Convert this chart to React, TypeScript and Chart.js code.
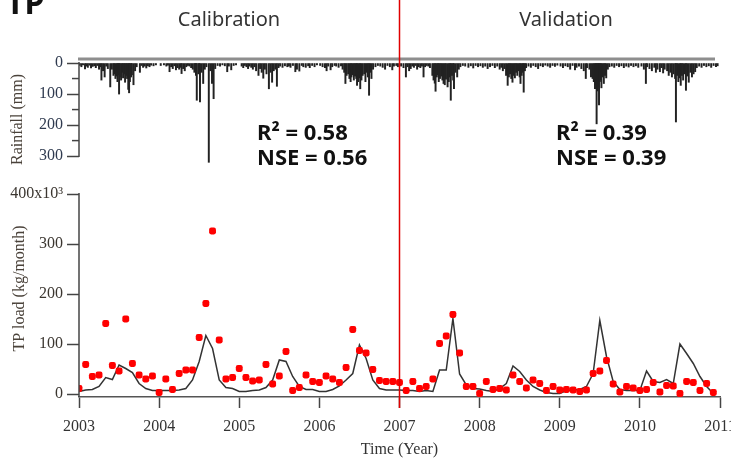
import React, { useEffect, useRef } from 'react';
import { Chart, registerables } from 'chart.js';

Chart.register(...registerables);

// ---------- data ----------
const yearTicks = [2003, 2004, 2005, 2006, 2007, 2008, 2009, 2010, 2011];
const startYear = 2003;
const splitYear = 2007;

// monthly TP load (x10^3 kg/month), Jan 2003 .. Dec 2010
const observedTP = [
  11, 59, 35, 38, 141, 57, 46, 150, 61, 38, 30, 36,
  3, 30, 9, 41, 48, 48, 113, 181, 326, 108, 30, 33,
  51, 33, 26, 28, 59, 20, 36, 85, 7, 13, 38, 25,
  23, 36, 30, 23, 53, 129, 87, 82, 49, 27, 25, 25,
  23, 7, 25, 11, 15, 30, 101, 116, 159, 82, 15, 15,
  1, 25, 9, 11, 8, 38, 25, 12, 28, 21, 7, 15,
  8, 9, 8, 5, 8, 41, 46, 67, 20, 4, 15, 12,
  7, 9, 23, 4, 17, 16, 1, 25, 23, 7, 21, 3,
];
const simulatedTP = [
  5, 8, 9, 15, 33, 29, 58, 51, 43, 21, 11, 7,
  7, 7, 7, 8, 11, 28, 65, 117, 91, 28, 13, 11,
  5, 5, 7, 8, 13, 28, 68, 65, 35, 15, 9, 9,
  5, 5, 9, 16, 28, 41, 98, 71, 28, 11, 8, 8,
  8, 7, 7, 5, 7, 5, 48, 48, 151, 40, 18, 11,
  10, 7, 5, 11, 21, 56, 45, 28, 15, 8, 3, 1,
  1, 7, 8, 9, 15, 41, 147, 75, 25, 9, 7, 7,
  7, 46, 25, 23, 29, 21, 100, 81, 61, 35, 15, 1,
];

// rainfall events: [decimal year, mm]
const rainfall: [number, number][] = [
  [2003.01, 8], [2003.03, 12], [2003.05, 6], [2003.075, 19], [2003.09, 10], [2003.11, 14], [2003.13, 7],
  [2003.15, 16], [2003.17, 11], [2003.19, 9], [2003.21, 15], [2003.23, 8], [2003.25, 20], [2003.27, 12],
  [2003.28, 55], [2003.30, 25], [2003.32, 45], [2003.34, 10], [2003.36, 18], [2003.39, 77], [2003.41, 20],
  [2003.43, 40], [2003.44, 35], [2003.455, 50], [2003.47, 42], [2003.48, 60], [2003.49, 38], [2003.50, 100],
  [2003.51, 45], [2003.525, 55], [2003.54, 30], [2003.55, 48], [2003.565, 35], [2003.575, 62], [2003.59, 40],
  [2003.60, 50], [2003.615, 85], [2003.625, 96], [2003.635, 60], [2003.65, 45], [2003.66, 38], [2003.68, 70],
  [2003.70, 25], [2003.72, 12], [2003.76, 30], [2003.78, 8], [2003.80, 14], [2003.82, 10], [2003.84, 16],
  [2003.86, 9], [2003.88, 12], [2003.90, 7], [2003.93, 9], [2003.96, 6],
  [2004.02, 8], [2004.06, 6], [2004.09, 10], [2004.11, 7], [2004.13, 28], [2004.15, 12], [2004.17, 18],
  [2004.19, 9], [2004.21, 22], [2004.23, 15], [2004.25, 20], [2004.27, 14], [2004.28, 34], [2004.30, 18],
  [2004.32, 25], [2004.34, 12], [2004.36, 8], [2004.38, 10], [2004.40, 15], [2004.42, 20], [2004.44, 30],
  [2004.45, 25], [2004.46, 40], [2004.47, 120], [2004.49, 35], [2004.50, 28], [2004.51, 125], [2004.53, 30],
  [2004.55, 66], [2004.57, 20], [2004.59, 12], [2004.62, 320], [2004.64, 25], [2004.66, 66], [2004.68, 115],
  [2004.70, 18], [2004.73, 8], [2004.76, 10], [2004.79, 6], [2004.82, 9], [2004.85, 28], [2004.87, 10],
  [2004.90, 22], [2004.93, 8], [2004.96, 6],
  [2005.03, 10], [2005.05, 15], [2005.07, 8], [2005.09, 12], [2005.11, 18], [2005.13, 10], [2005.15, 14],
  [2005.17, 20], [2005.19, 12], [2005.21, 25], [2005.24, 40], [2005.26, 18], [2005.28, 30], [2005.30, 49],
  [2005.32, 20], [2005.34, 35], [2005.37, 83], [2005.39, 30], [2005.41, 62], [2005.43, 25], [2005.45, 20],
  [2005.47, 75], [2005.49, 15], [2005.51, 10], [2005.54, 14], [2005.57, 9], [2005.60, 12], [2005.62, 10],
  [2005.64, 14], [2005.67, 8], [2005.70, 28], [2005.72, 20], [2005.75, 26], [2005.78, 8], [2005.80, 12],
  [2005.83, 14], [2005.86, 9], [2005.88, 15], [2005.91, 8], [2005.94, 12], [2005.97, 6],
  [2006.01, 8], [2006.04, 12], [2006.07, 15], [2006.09, 25], [2006.11, 10], [2006.14, 22], [2006.16, 12],
  [2006.19, 8], [2006.21, 10], [2006.24, 14], [2006.27, 9], [2006.29, 20], [2006.31, 30], [2006.325, 66],
  [2006.34, 40], [2006.36, 35], [2006.375, 50], [2006.39, 60], [2006.40, 45], [2006.415, 38], [2006.43, 55],
  [2006.445, 42], [2006.46, 50], [2006.47, 72], [2006.485, 60], [2006.50, 48], [2006.51, 83], [2006.525, 55],
  [2006.54, 40], [2006.56, 35], [2006.575, 60], [2006.59, 30], [2006.605, 45], [2006.62, 104], [2006.635, 30],
  [2006.65, 50], [2006.67, 20], [2006.70, 12], [2006.73, 8], [2006.76, 10], [2006.79, 14], [2006.82, 20],
  [2006.85, 8], [2006.88, 12], [2006.91, 22], [2006.93, 10], [2006.96, 8], [2006.98, 12],
  [2007.02, 10], [2007.05, 15], [2007.08, 45], [2007.10, 12], [2007.12, 25], [2007.14, 18], [2007.16, 10],
  [2007.18, 14], [2007.20, 8], [2007.22, 20], [2007.24, 12], [2007.26, 15], [2007.28, 10], [2007.30, 45],
  [2007.32, 12], [2007.34, 8], [2007.36, 10], [2007.38, 15], [2007.41, 40], [2007.425, 55], [2007.44, 65],
  [2007.45, 91], [2007.465, 45], [2007.48, 38], [2007.49, 60], [2007.505, 50], [2007.52, 42], [2007.535, 55],
  [2007.55, 66], [2007.565, 70], [2007.58, 52], [2007.60, 77], [2007.615, 60], [2007.63, 45], [2007.64, 120],
  [2007.655, 40], [2007.67, 55], [2007.68, 83], [2007.70, 30], [2007.72, 45], [2007.74, 20], [2007.76, 12],
  [2007.79, 8], [2007.82, 10], [2007.86, 14], [2007.89, 9], [2007.92, 16], [2007.95, 8], [2007.98, 12],
  [2008.01, 9], [2008.04, 14], [2008.07, 10], [2008.10, 18], [2008.13, 12], [2008.16, 8], [2008.19, 15],
  [2008.22, 10], [2008.25, 20], [2008.27, 14], [2008.29, 25], [2008.31, 18], [2008.33, 40], [2008.35, 72],
  [2008.365, 45], [2008.38, 35], [2008.395, 50], [2008.41, 62], [2008.425, 40], [2008.44, 48], [2008.455, 30],
  [2008.47, 40], [2008.485, 25], [2008.50, 45], [2008.51, 66], [2008.525, 40], [2008.54, 30], [2008.55, 94],
  [2008.565, 25], [2008.58, 15], [2008.61, 10], [2008.64, 14], [2008.67, 8], [2008.70, 12], [2008.73, 18],
  [2008.76, 9], [2008.79, 12], [2008.82, 7], [2008.85, 10], [2008.88, 14], [2008.91, 8], [2008.94, 11], [2008.97, 7],
  [2009.01, 10], [2009.04, 15], [2009.07, 9], [2009.10, 12], [2009.13, 20], [2009.16, 8], [2009.19, 22],
  [2009.21, 14], [2009.24, 10], [2009.27, 18], [2009.30, 25], [2009.325, 50], [2009.34, 15], [2009.37, 20],
  [2009.39, 45], [2009.41, 50], [2009.425, 60], [2009.44, 83], [2009.45, 70], [2009.46, 196], [2009.47, 90],
  [2009.48, 75], [2009.49, 135], [2009.50, 60], [2009.51, 55], [2009.52, 80], [2009.535, 45], [2009.55, 66],
  [2009.565, 40], [2009.58, 48], [2009.60, 20], [2009.62, 12], [2009.65, 10], [2009.68, 14], [2009.71, 8],
  [2009.74, 12], [2009.77, 9], [2009.80, 15], [2009.83, 10], [2009.86, 13], [2009.89, 8], [2009.92, 12],
  [2009.95, 9], [2009.98, 14],
  [2010.02, 10], [2010.05, 20], [2010.075, 66], [2010.09, 12], [2010.12, 18], [2010.15, 25], [2010.18, 14],
  [2010.20, 30], [2010.22, 20], [2010.25, 28], [2010.27, 15], [2010.29, 32], [2010.31, 20], [2010.34, 25],
  [2010.36, 40], [2010.38, 30], [2010.40, 45], [2010.42, 35], [2010.44, 50], [2010.45, 190], [2010.465, 40],
  [2010.48, 60], [2010.50, 48], [2010.51, 72], [2010.525, 40], [2010.54, 55], [2010.56, 35], [2010.575, 88],
  [2010.59, 42], [2010.61, 62], [2010.63, 30], [2010.65, 45], [2010.67, 35], [2010.69, 28], [2010.71, 15],
  [2010.74, 10], [2010.77, 14], [2010.80, 8], [2010.83, 12], [2010.86, 9], [2010.89, 14], [2010.92, 8],
  [2010.95, 12], [2010.97, 9],
];

const rainMajorTicks = [0, 100, 200, 300];
const rainMinorTicks = [50, 150, 250];
const tpTicks = [0, 100, 200, 300, 400];

const periodLabels = ['Calibration', 'Validation'];
const calibStats = ['R\u00B2 = 0.58', 'NSE = 0.56'];
const validStats = ['R\u00B2 = 0.39', 'NSE = 0.39'];

// ---------- chart ----------
const serif = 'Liberation Serif, Times New Roman, serif';
const sans = 'Noto Sans, Open Sans, sans-serif';

const overlayPlugin = {
  id: 'overlay',
  afterDraw(chart: any) {
    const { ctx, chartArea, scales } = chart;
    const x = scales.x, r = scales.rain, y = scales.y;
    const axisX = chartArea.left;
    ctx.save();
    // top frame line of rainfall panel
    ctx.strokeStyle = '#8e8e8e';
    ctx.lineWidth = 3;
    ctx.beginPath();
    ctx.moveTo(axisX - 1, chartArea.top);
    ctx.lineTo(chartArea.right - 5, chartArea.top);
    ctx.stroke();
    // rain axis line
    ctx.strokeStyle = '#444';
    ctx.lineWidth = 1.5;
    ctx.beginPath();
    ctx.moveTo(axisX, r.getPixelForValue(0) - 1);
    ctx.lineTo(axisX, r.getPixelForValue(300) + 1);
    ctx.stroke();
    // rain minor ticks
    for (const v of rainMinorTicks) {
      const py = r.getPixelForValue(v);
      ctx.beginPath();
      ctx.moveTo(axisX - 7, py);
      ctx.lineTo(axisX, py);
      ctx.stroke();
    }
    // TP axis line
    ctx.beginPath();
    ctx.moveTo(axisX, y.getPixelForValue(400) - 1);
    ctx.lineTo(axisX, chartArea.bottom);
    ctx.stroke();
    // split line
    const sx = x.getPixelForValue(splitYear);
    ctx.strokeStyle = '#e00000';
    ctx.lineWidth = 1.5;
    ctx.beginPath();
    ctx.moveTo(sx, 0);
    ctx.lineTo(sx, chartArea.bottom + 11);
    ctx.stroke();

    // texts
    ctx.fillStyle = '#111';
    ctx.textBaseline = 'alphabetic';
    ctx.textAlign = 'left';
    ctx.font = `bold 32px ${sans}`;
    ctx.fillText('TP', 6, 14);

    ctx.fillStyle = '#333';
    ctx.font = `20px ${sans}`;
    ctx.textAlign = 'center';
    ctx.fillText(periodLabels[0], 229, 26);
    ctx.fillText(periodLabels[1], 566, 26);

    ctx.fillStyle = '#111';
    ctx.font = `bold 22px ${sans}`;
    ctx.textAlign = 'left';
    ctx.fillText(calibStats[0], 257, 140);
    ctx.fillText(calibStats[1], 257, 165);
    ctx.fillText(validStats[0], 556, 140);
    ctx.fillText(validStats[1], 556, 165);
    ctx.restore();
  },
};

export default function App() {
  const ref = useRef<HTMLCanvasElement | null>(null);

  useEffect(() => {
    if (!ref.current) return;
    const obs = observedTP.map((v, i) => ({ x: startYear + i / 12, y: v }));
    const sim = simulatedTP.map((v, i) => ({ x: startYear + i / 12, y: v }));
    const rain = rainfall.map(([t, mm]) => ({ x: t, y: mm }));

    const chart = new Chart(ref.current, {
      type: 'line',
      data: {
        datasets: [
          {
            type: 'line',
            label: 'Observed',
            data: obs,
            xAxisID: 'x',
            yAxisID: 'y',
            showLine: false,
            pointStyle: 'rectRounded',
            pointRadius: 4,
            pointBackgroundColor: '#ff0000',
            pointBorderWidth: 0,
            borderColor: '#ff0000',
          },
          {
            type: 'line',
            label: 'Simulated',
            data: sim,
            xAxisID: 'x',
            yAxisID: 'y',
            borderColor: '#333',
            borderWidth: 1.5,
            pointRadius: 0,
            tension: 0,
          },
          {
            type: 'bar',
            label: 'Rainfall',
            data: rain,
            xAxisID: 'x',
            yAxisID: 'rain',
            backgroundColor: '#222',
            borderWidth: 0,
            barThickness: 1.3,
            grouped: false,
          } as any,
        ],
      },
      options: {
        responsive: false,
        animation: false,
        devicePixelRatio: 1,
        layout: { padding: { top: 59, bottom: 0, left: 0, right: 11 } },
        plugins: { legend: { display: false }, tooltip: { enabled: false } },
        scales: {
          x: {
            type: 'linear',
            min: 2003,
            max: 2011,
            offset: false,
            afterBuildTicks: (s: any) => {
              s.ticks = yearTicks.map((v) => ({ value: v }));
            },
            afterFit: (s: any) => {
              s.height = 62;
              s.paddingLeft = 0;
              s.paddingRight = 0;
            },
            ticks: {
              autoSkip: false,
              maxRotation: 0,
              padding: 9,
              color: '#333',
              font: { family: serif, size: 16 },
              callback: (v: any) => String(v),
            },
            grid: { offset: false, drawOnChartArea: false, drawTicks: true, tickLength: 11, tickColor: '#444', tickWidth: 1.5 },
            border: { display: true, color: '#555', width: 1.5 },
            title: { display: true, text: 'Time (Year)', color: '#333', font: { family: serif, size: 16 }, padding: { top: 0, bottom: 0 } },
          },
          y: {
            type: 'linear',
            position: 'left',
            stack: 'left',
            stackWeight: 217,
            min: -6,
            max: 428,
            afterBuildTicks: (s: any) => {
              s.ticks = tpTicks.map((v) => ({ value: v }));
            },
            afterFit: (s: any) => {
              s.width = 79;
            },
            ticks: {
              autoSkip: false,
              padding: 4,
              color: '#3b3630',
              font: { family: serif, size: 16 },
              callback: (v: any) => (v === 400 ? '400x10\u00B3' : String(v)),
            },
            grid: { drawOnChartArea: false, drawTicks: true, tickLength: 12, tickColor: '#444', tickWidth: 1.5 },
            border: { display: false },
            title: { display: true, text: 'TP load (kg/month)', color: '#4a423a', font: { family: serif, size: 16 }, padding: { top: 10, bottom: 0 } },
          },
          rain: {
            type: 'linear',
            position: 'left',
            stack: 'left',
            stackWeight: 121,
            reverse: true,
            min: -13,
            max: 377,
            afterBuildTicks: (s: any) => {
              s.ticks = rainMajorTicks.map((v) => ({ value: v }));
            },
            afterFit: (s: any) => {
              s.width = 79;
            },
            ticks: {
              autoSkip: false,
              padding: 4,
              color: '#2f3a4f',
              font: { family: serif, size: 16 },
              callback: (v: any) => String(v),
            },
            grid: { drawOnChartArea: false, drawTicks: true, tickLength: 12, tickColor: '#444', tickWidth: 1.5 },
            border: { display: false },
            title: { display: true, text: 'Rainfall (mm)', color: '#4a423a', font: { family: serif, size: 16 }, padding: { top: 8, bottom: 0 } },
          },
        },
      } as any,
      plugins: [overlayPlugin],
    });
    return () => chart.destroy();
  }, []);

  return (
    <div style={{ position: 'absolute', left: 0, top: 0, width: 731, height: 459, background: '#fff' }}>
      <canvas ref={ref} width={731} height={459} style={{ width: 731, height: 459, display: 'block' }} />
    </div>
  );
}
